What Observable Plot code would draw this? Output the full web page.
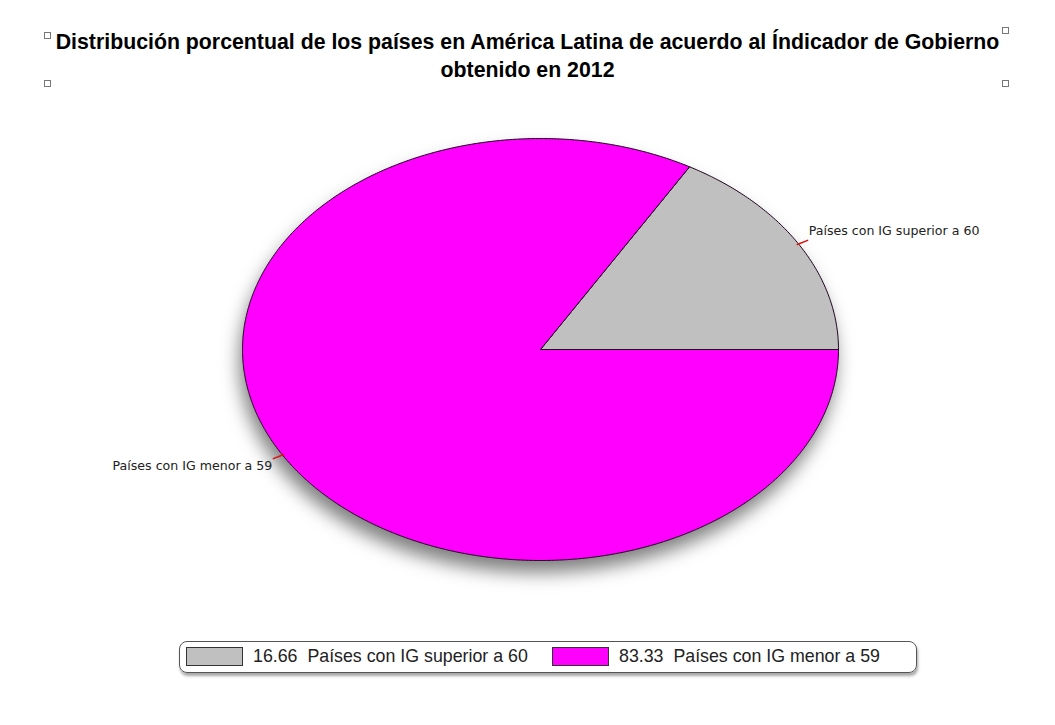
<!DOCTYPE html>
<html>
<head>
<meta charset="utf-8">
<script src="https://cdn.jsdelivr.net/npm/d3@7"></script>
<script src="https://cdn.jsdelivr.net/npm/@observablehq/plot@0.6"></script>
<style>
  html, body { margin: 0; padding: 0; background: #fff; }
  #wrap { position: relative; width: 1055px; height: 725px; overflow: hidden; }
  #title { position: absolute; left: 0; top: 28px; width: 1055px; text-align: center;
    font-family: "Liberation Sans", Arial, sans-serif; font-weight: bold; font-size: 21.3px;
    line-height: 28px; color: #000; }
  .handle { position: absolute; width: 5px; height: 5px; border: 1px solid #777; background: #fff; }
  #chart { position: absolute; left: 0; top: 95px; }
  #legend { position: absolute; left: 179px; top: 641px; width: 736px; height: 30px;
    border: 1px solid #555; border-radius: 8px; box-shadow: 1px 3px 3px rgba(0,0,0,0.35);
    font-family: "Liberation Sans", Arial, sans-serif; font-size: 17.8px; color: #222; }
  .item { position: absolute; top: 4px; display: flex; align-items: center; height: 20px; }
  .sw { width: 57px; height: 19px; border: 1px solid #333; margin-right: 10px; box-sizing: border-box; }
</style>
</head>
<body>
<div id="wrap">
  <div id="title"></div>
  <div class="handle" style="left:44px;top:32px"></div>
  <div class="handle" style="left:1002px;top:27px"></div>
  <div class="handle" style="left:44px;top:80px"></div>
  <div class="handle" style="left:1002px;top:80px"></div>
  <div id="chart"></div>
  <div id="legend"></div>
</div>
<script>
const titleLines = ["Distribución porcentual de los países en América Latina de acuerdo al Índicador de Gobierno", "obtenido en 2012"];
const categories = ["Países con IG superior a 60", "Países con IG menor a 59"];
const values = [16.66, 83.33];
const valueLabels = ["16.66", "83.33"];
const colors = ["#c0c0c0", "#ff00ff"];

document.getElementById("title").innerHTML = titleLines.join("<br>");

// slice angles (counterclockwise from east), derived from values
const total = d3.sum(values);
let acc = 0;
const slices = categories.map((c, i) => {
  const a0 = acc / total * 2 * Math.PI;
  acc += values[i];
  const a1 = acc / total * 2 * Math.PI;
  return {category: c, value: values[i], color: colors[i], a0, a1, mid: (a0 + a1) / 2};
});

// polygon points for each slice on the unit circle (stretched into an ellipse by the scales)
function slicePoints(s) {
  const pts = [{x: 0, y: 0, category: s.category}];
  const n = Math.max(8, Math.ceil((s.a1 - s.a0) / (Math.PI / 360)));
  for (let k = 0; k <= n; k++) {
    const a = s.a0 + (s.a1 - s.a0) * k / n;
    pts.push({x: Math.cos(a), y: Math.sin(a), category: s.category});
  }
  pts.push({x: 0, y: 0, category: s.category});
  return pts;
}
const shadowPts = slices.flatMap(s => slicePoints(s).slice(1, -1));

const leaders = slices.flatMap(s => [
  {x: Math.cos(s.mid) * 0.995, y: Math.sin(s.mid) * 0.995, category: s.category},
  {x: Math.cos(s.mid) * 1.035, y: Math.sin(s.mid) * 1.035, category: s.category}
]);
const labels = slices.map(s => ({
  x: Math.cos(s.mid) * 1.035, y: Math.sin(s.mid) * 1.035, category: s.category,
  anchor: Math.cos(s.mid) >= 0 ? "start" : "end"
}));

const chart = Plot.plot({
  width: 1055,
  height: 520,
  margin: 0,
  x: {domain: [-1, 1], range: [242, 838], axis: null},
  y: {domain: [-1, 1], range: [465, 43], axis: null},
  marks: [
    Plot.line(shadowPts, {x: "x", y: "y", fill: "#fff", stroke: "none", curve: "linear-closed"}),
    ...slices.map(s => Plot.line(slicePoints(s), {
      x: "x", y: "y", fill: s.color, stroke: "#1a001a", strokeWidth: 1, curve: "linear"
    })),
    Plot.line(leaders, {x: "x", y: "y", z: "category", stroke: "#e01010", strokeWidth: 1.5}),
    Plot.text(labels.filter(d => d.anchor === "start"), {
      x: "x", y: "y", text: "category", textAnchor: "start", dx: 1, dy: -9,
      fontFamily: "DejaVu Sans, Verdana, sans-serif", fontSize: 12.6, fill: "#222"
    }),
    Plot.text(labels.filter(d => d.anchor === "end"), {
      x: "x", y: "y", text: "category", textAnchor: "end", dx: -1, dy: 7,
      fontFamily: "DejaVu Sans, Verdana, sans-serif", fontSize: 12.6, fill: "#222"
    })
  ]
});
// soft drop shadow under the whole pie (applied to the backing ellipse only)
d3.select(chart).selectAll("g[aria-label='line']").filter((d, i) => i === 0)
  .style("filter", "drop-shadow(-3px 12px 9px rgba(0,0,0,0.5))");
document.getElementById("chart").appendChild(chart);

// legend
const legend = document.getElementById("legend");
const itemLeft = [6, 372];
slices.forEach((s, i) => {
  const it = document.createElement("div");
  it.className = "item";
  it.style.left = itemLeft[i] + "px";
  it.innerHTML = `<div class="sw" style="background:${s.color}"></div><span>${valueLabels[i]}&nbsp;&nbsp;${s.category}</span>`;
  legend.appendChild(it);
});
</script>
</body>
</html>
